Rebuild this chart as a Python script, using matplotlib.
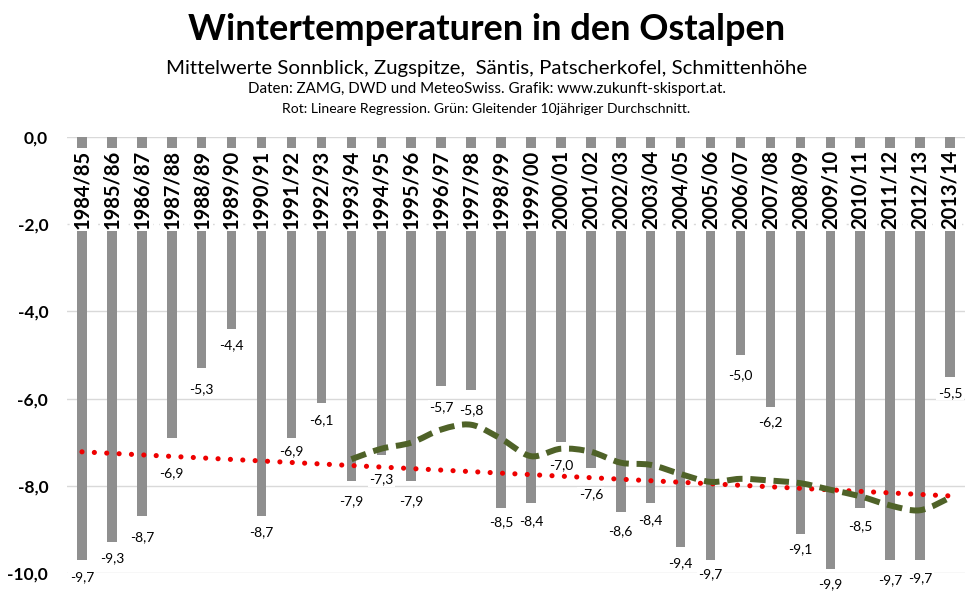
import numpy as np
import pandas as pd
import matplotlib
matplotlib.use("Agg")
import matplotlib.pyplot as plt
from matplotlib.path import Path
from matplotlib.patches import PathPatch

seasons = ["1984/85", "1985/86", "1986/87", "1987/88", "1988/89", "1989/90",
           "1990/91", "1991/92", "1992/93", "1993/94", "1994/95", "1995/96",
           "1996/97", "1997/98", "1998/99", "1999/00", "2000/01", "2001/02",
           "2002/03", "2003/04", "2004/05", "2005/06", "2006/07", "2007/08",
           "2008/09", "2009/10", "2010/11", "2011/12", "2012/13", "2013/14"]
temps = [-9.7, -9.3, -8.7, -6.9, -5.3, -4.4, -8.7, -6.9, -6.1, -7.9,
         -7.3, -7.9, -5.7, -5.8, -8.5, -8.4, -7.0, -7.6, -8.6, -8.4,
         -9.4, -9.7, -5.0, -6.2, -9.1, -9.9, -8.5, -9.7, -9.7, -5.5]
yticks = [0, -2, -4, -6, -8, -10]

# style: pixel distance of each value label below its bar end
label_gap = [17, 16, 21, 35, 21, 16, 16, 13, 17, 20, 24, 20, 22, 20, 15,
             18, 23, 26, 19, 17, 16, 14, 20, 15, 15, 16, 19, 20, 18, 16]

title = "Wintertemperaturen in den Ostalpen"
sub1 = "Mittelwerte Sonnblick, Zugspitze,  Säntis, Patscherkofel, Schmittenhöhe"
sub2 = "Daten: ZAMG, DWD und MeteoSwiss. Grafik: www.zukunft-skisport.at."
sub3 = "Rot: Lineare Regression. Grün: Gleitender 10jähriger Durchschnitt."

plt.rcParams['font.family'] = ['Lato', 'DejaVu Sans']

fig = plt.figure(figsize=(9.73, 6.06), dpi=100)
ax = fig.add_axes([67/973, 1-573/606, (965-67)/973, (573-137)/606])

x = np.arange(len(temps))
y = np.array(temps)

# gridlines
for t in yticks:
    ls = (0, (1.5, 4)) if t == -2 else '-'
    ax.axhline(t, color='#d9d9d9', lw=1, ls=ls, zorder=0)

ax.bar(x, y, width=0.32, color='#8f8f8f', zorder=1)

# category labels inside plot
for xi, s in zip(x, seasons):
    ax.text(xi, -0.30, s, rotation=90, ha='center', va='top', fontsize=14.5,
            fontweight='bold', color='black', zorder=3,
            bbox=dict(boxstyle='square,pad=0.08', fc='white', ec='none'))

# value labels
for xi, v, g in zip(x, y, label_gap):
    ax.annotate(f"{v:.1f}".replace('.', ','), (xi, v), xytext=(0, -g),
                textcoords='offset pixels', ha='center', va='center',
                fontsize=10, color='black', zorder=4, annotation_clip=False,
                bbox=dict(boxstyle='square,pad=0.1', fc='white', ec='none'))

# linear regression
coef = np.polyfit(x, y, 1)
ax.plot(x, np.polyval(coef, x), color='#ee0000', lw=3.7,
        ls=(0, (0.01, 2.4)), dash_capstyle='round', zorder=5)

# moving average, smooth line
ma = pd.Series(y).rolling(10).mean()
mx = x[9:].astype(float)
my = ma.values[9:]
P = np.column_stack([mx, my])
verts = [P[0]]
codes = [Path.MOVETO]
n = len(P)
for i in range(n - 1):
    p0 = P[i - 1] if i > 0 else P[i]
    p1 = P[i]
    p2 = P[i + 1]
    p3 = P[i + 2] if i + 2 < n else P[i + 1]
    c1 = p1 + (p2 - p0) / 6.0
    c2 = p2 - (p3 - p1) / 6.0
    verts += [c1, c2, p2]
    codes += [Path.CURVE4] * 3
patch = PathPatch(Path(verts, codes), fill=False, edgecolor='#4f6228', lw=4.3,
                  ls=(0, (2.6, 1.3)), zorder=6)
patch.set_capstyle('butt')
ax.add_patch(patch)

ax.set_xlim(-0.5, len(temps) - 0.5)
ax.set_ylim(-10, 0)
ax.set_yticks(yticks)
ax.set_yticklabels([f"{t:.1f}".replace('.', ',') for t in yticks],
                   fontsize=12.5, fontweight='bold')
ax.tick_params(axis='y', length=0, pad=13.5)
ax.set_xticks([])
for sp in ax.spines.values():
    sp.set_visible(False)

fig.text(0.5, 1 - 40/606, title, ha='center', va='baseline', fontsize=26,
         fontweight='bold')
fig.text(0.5, 1 - 74/606, sub1, ha='center', va='baseline', fontsize=14.7)
fig.text(0.5, 1 - 93/606, sub2, ha='center', va='baseline', fontsize=10.9)
fig.text(0.5, 1 - 113/606, sub3, ha='center', va='baseline', fontsize=10.1)

fig.savefig("out.png", dpi=100)
